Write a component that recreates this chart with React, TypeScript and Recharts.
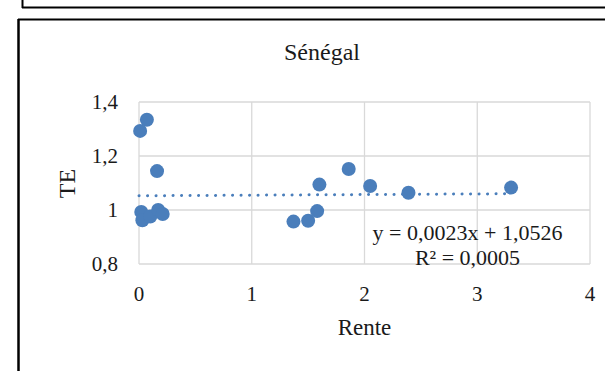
import React from 'react';
import { ScatterChart, Scatter, XAxis, YAxis, CartesianGrid } from 'recharts';

const chartTitle = 'Sénégal';
const xAxisLabel = 'Rente';
const yAxisLabel = 'TE';
const renteValues = [0.01, 0.07, 0.16, 0.02, 0.03, 0.1, 0.17, 0.21, 1.37, 1.5, 1.58, 1.6, 1.86, 2.05, 2.39, 3.3];
const teValues = [1.293, 1.334, 1.144, 0.993, 0.962, 0.976, 1.0, 0.985, 0.957, 0.96, 0.996, 1.094, 1.152, 1.089, 1.064, 1.083];
const xTicks = [0, 1, 2, 3, 4];
const yTicks = [0.8, 1, 1.2, 1.4];
const trendSlope = 0.0023;
const trendIntercept = 1.0526;
const trendXRange = [0, 3.3];
const equationText = 'y = 0,0023x + 1,0526';
const r2Text = 'R² = 0,0005';

const points = renteValues.map((x, i) => ({ x, y: teValues[i] }));
const trendPoints = trendXRange.map((x) => ({ x, y: trendSlope * x + trendIntercept }));

const FONT = '"Liberation Serif", "DejaVu Serif", serif';
const BLUE = '#4a7ebb';
const fmt = (v: number) => String(v).replace('.', ',');

export default function App() {
  return (
    <div style={{ position: 'absolute', left: 0, top: 0, width: 605, height: 371, background: '#fff', overflow: 'hidden' }}>
      <ScatterChart
        width={605}
        height={371}
        margin={{ top: 102, right: 15, bottom: 77, left: 79 }}
        style={{ fontFamily: FONT }}
      >
        <CartesianGrid stroke="#d9d9d9" strokeWidth={1.3} />
        <XAxis
          type="number"
          dataKey="x"
          domain={[0, 4]}
          ticks={xTicks}
          axisLine={false}
          tickLine={false}
          tickSize={0}
          tickMargin={22}
          height={30}
          tick={{ fill: '#1a1a1a', fontSize: 21, fontFamily: FONT }}
        />
        <YAxis
          type="number"
          dataKey="y"
          domain={[0.8, 1.4]}
          ticks={yTicks}
          axisLine={false}
          tickLine={false}
          tickSize={0}
          tickMargin={21}
          width={60}
          tickFormatter={fmt}
          tick={{ fill: '#1a1a1a', fontSize: 21, fontFamily: FONT }}
        />
        <Scatter
          data={trendPoints}
          line={{ stroke: BLUE, strokeWidth: 3, strokeDasharray: '0.1 8.4', strokeLinecap: 'round' }}
          shape={() => <g />}
          isAnimationActive={false}
        />
        <Scatter data={points} fill={BLUE} shape={(p: any) => <circle cx={p.cx} cy={p.cy} r={7} fill={BLUE} />} isAnimationActive={false} />
      </ScatterChart>
      <svg width={605} height={371} style={{ position: 'absolute', left: 0, top: 0, pointerEvents: 'none' }}>
        <line x1={22.5} y1={0} x2={22.5} y2={8} stroke="#000" strokeWidth={2} />
        <line x1={22} y1={7.5} x2={605} y2={7.5} stroke="#000" strokeWidth={2} />
        <line x1={18.5} y1={19} x2={18.5} y2={371} stroke="#000" strokeWidth={2.5} />
        <line x1={18} y1={19.5} x2={605} y2={19.5} stroke="#000" strokeWidth={2} />
        <text x={322} y={60} textAnchor="middle" fontFamily={FONT} fontSize={24} fill="#1a1a1a">{chartTitle}</text>
        <text x={364.5} y={335} textAnchor="middle" fontFamily={FONT} fontSize={23} fill="#1a1a1a">{xAxisLabel}</text>
        <text x={75} y={183.5} textAnchor="middle" fontFamily={FONT} fontSize={24} fill="#1a1a1a" transform="rotate(-90 75 183.5)">{yAxisLabel}</text>
        <text x={467.5} y={240} textAnchor="middle" fontFamily={FONT} fontSize={22} fill="#1a1a1a">{equationText}</text>
        <text x={467.5} y={265} textAnchor="middle" fontFamily={FONT} fontSize={22} fill="#1a1a1a">{r2Text}</text>
      </svg>
    </div>
  );
}
